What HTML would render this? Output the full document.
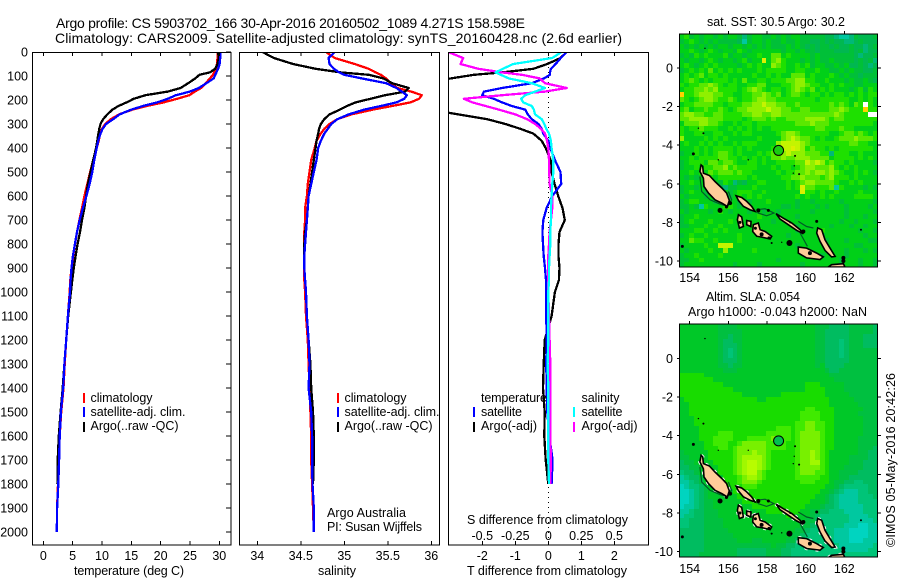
<!DOCTYPE html>
<html lang="en">
<head>
<meta charset="utf-8">
<title>Argo profile</title>
<style>
html,body{margin:0;padding:0;background:#fff;width:900px;height:580px;overflow:hidden}
svg{display:block}
text{font-family:"Liberation Sans",sans-serif;font-size:12.5px;fill:#000}
.t{font-size:14px}
.frame{fill:none;stroke:#000;stroke-width:1.4;shape-rendering:crispEdges}
.mark{stroke-width:2.2;shape-rendering:crispEdges}
</style>
</head>
<body>
<svg xmlns="http://www.w3.org/2000/svg" width="900" height="580" viewBox="0 0 900 580">
<defs>
<clipPath id="c1"><rect x="32" y="52" width="199" height="493"/></clipPath>
<clipPath id="c2"><rect x="239" y="52" width="200" height="493"/></clipPath>
<clipPath id="c3"><rect x="449" y="52" width="199" height="493"/></clipPath>
<clipPath id="m1"><rect x="679" y="34" width="199" height="233"/></clipPath>
<clipPath id="m2"><rect x="679" y="324" width="199" height="233"/></clipPath>
</defs>

<text class="t" x="56" y="28" textLength="469" lengthAdjust="spacing">Argo profile: CS 5903702_166 30-Apr-2016 20160502_1089 4.271S 158.598E</text>
<text class="t" x="55" y="43" textLength="567" lengthAdjust="spacing">Climatology: CARS2009. Satellite-adjusted climatology: synTS_20160428.nc (2.6d earlier)</text>

<g id="p1" clip-path="url(#c1)"></g>
<g id="p2" clip-path="url(#c2)"></g>
<g id="p3" clip-path="url(#c3)"></g>
<g id="axes"></g>

<rect class="frame" x="32.5" y="52.5" width="198.5" height="492.5"/>
<rect class="frame" x="239.5" y="52.5" width="200" height="492.5"/>
<rect class="frame" x="448.5" y="52.5" width="200" height="492.5"/>

<text x="74" y="575" textLength="110" lengthAdjust="spacing">temperature (deg C)</text>
<text x="318" y="575" textLength="38" lengthAdjust="spacing">salinity</text>
<text x="467" y="575" textLength="160" lengthAdjust="spacing">T difference from climatology</text>
<text x="467" y="524" textLength="161" lengthAdjust="spacing">S difference from climatology</text>

<g>
<line class="mark" x1="84" x2="84" y1="393" y2="403" stroke="#f00"/>
<text x="90.5" y="402" textLength="62" lengthAdjust="spacing">climatology</text>
<line class="mark" x1="84" x2="84" y1="407" y2="417" stroke="#00f"/>
<text x="90.5" y="416" textLength="95" lengthAdjust="spacing">satellite-adj. clim.</text>
<line class="mark" x1="84" x2="84" y1="422" y2="432" stroke="#000"/>
<text x="90.5" y="430" textLength="88" lengthAdjust="spacing">Argo(..raw -QC)</text>
</g>
<g>
<line class="mark" x1="338" x2="338" y1="393" y2="403" stroke="#f00"/>
<text x="344.5" y="402" textLength="62" lengthAdjust="spacing">climatology</text>
<line class="mark" x1="338" x2="338" y1="407" y2="417" stroke="#00f"/>
<text x="344.5" y="416" textLength="95" lengthAdjust="spacing">satellite-adj. clim.</text>
<line class="mark" x1="338" x2="338" y1="422" y2="432" stroke="#000"/>
<text x="344.5" y="430" textLength="88" lengthAdjust="spacing">Argo(..raw -QC)</text>
</g>
<text x="327" y="517" textLength="79" lengthAdjust="spacing">Argo Australia</text>
<text x="327" y="531" textLength="95" lengthAdjust="spacing">PI: Susan Wijffels</text>

<g>
<text x="481" y="402" textLength="66" lengthAdjust="spacing">temperature</text>
<line class="mark" x1="474" x2="474" y1="407" y2="417" stroke="#00f"/>
<text x="481" y="416" textLength="41" lengthAdjust="spacing">satellite</text>
<line class="mark" x1="474" x2="474" y1="422" y2="432" stroke="#000"/>
<text x="481" y="430" textLength="56" lengthAdjust="spacing">Argo(-adj)</text>
<text x="581.5" y="402" textLength="38" lengthAdjust="spacing">salinity</text>
<line class="mark" x1="574" x2="574" y1="407" y2="417" stroke="#0ff"/>
<text x="581.5" y="416" textLength="41" lengthAdjust="spacing">satellite</text>
<line class="mark" x1="574" x2="574" y1="422" y2="432" stroke="#f0f"/>
<text x="581.5" y="430" textLength="56" lengthAdjust="spacing">Argo(-adj)</text>
</g>

<text x="707" y="26" textLength="138" lengthAdjust="spacing">sat. SST: 30.5 Argo: 30.2</text>
<g id="map1" clip-path="url(#m1)"></g>
<rect class="frame" x="679.5" y="34" width="198" height="233"/>

<text x="706" y="301" textLength="94" lengthAdjust="spacing">Altim. SLA: 0.054</text>
<text x="688" y="316" textLength="179" lengthAdjust="spacing">Argo h1000: -0.043 h2000: NaN</text>
<g id="map2" clip-path="url(#m2)"></g>
<rect class="frame" x="679.5" y="324" width="198" height="233"/>

<text transform="translate(895 547) rotate(-90)" x="0" y="0" textLength="174" lengthAdjust="spacing">©IMOS 05-May-2016 20:42:26</text>
</svg>

<script>
// ---- profile data (depth in dbar, temperature deg C, salinity, differences) ----
const depths = [0,25,50,70,85,95,110,130,150,165,180,195,210,225,240,260,280,300,320,340,370,400,450,500,550,600,650,700,750,800,850,900,950,1000,1100,1200,1300,1400,1500,1600,1700,1800,1900,2000];

const tempClim = [29.75,29.7,29.6,29.4,29.1,28.9,28.4,27.7,26.9,25.8,24.9,22.8,20.5,17.6,15.2,12.9,11.5,10.55,10,9.7,9.45,9.1,8.5,8.0,7.5,7.0,6.6,6.15,5.75,5.4,5.1,4.8,4.6,4.5,4.2,3.9,3.65,3.45,3.05,2.8,2.65,2.5,2.35,2.3];
const tempArgo = [29.8,29.9,29.7,29.3,28.4,26.6,25.9,24.7,23.4,21.2,17.4,15.4,14.2,12.8,11.8,10.9,10.2,9.75,9.55,9.4,9.2,9.0,8.5,8.05,7.6,7.3,7.0,6.6,6.25,5.85,5.5,5.2,4.95,4.7,4.25,3.9,3.6,3.3,2.95,2.65,2.45,2.4,null,null];
const tempSat = [30.2,30.15,30.05,29.8,29.5,29.3,29.05,27.8,26.5,25,22.6,21.2,19.4,17,15,13,11.9,10.7,10.1,9.75,9.35,9.1,8.7,8.35,7.9,7.35,6.75,6.2,5.75,5.38,5.05,4.8,4.65,4.55,4.2,3.9,3.6,3.4,3.0,2.8,2.7,2.55,2.35,2.3];

const salClim = [34.79,34.89,35.12,35.28,35.36,35.42,35.48,35.53,35.61,35.77,35.89,35.86,35.76,35.55,35.33,35.08,34.92,34.83,34.77,34.73,34.68,34.66,34.62,34.6,34.58,34.57,34.55,34.55,34.54,34.54,34.54,34.54,34.54,34.55,34.56,34.58,34.59,34.6,34.61,34.62,34.62,34.63,34.64,34.65];
const salArgo = [34.06,34.19,34.41,34.67,34.96,35.28,35.45,35.55,35.74,35.7,35.47,35.3,35.13,35.03,34.95,34.83,34.77,34.73,34.71,34.7,34.68,34.67,34.65,34.63,34.61,34.59,34.58,34.57,34.55,34.54,34.54,34.54,34.55,34.56,34.57,34.59,34.61,34.62,34.64,34.65,34.65,34.64,null,null];
const salSat = [34.89,34.82,34.83,34.88,34.94,35,35.2,35.48,35.6,35.66,35.72,35.69,35.6,35.42,35.23,35.05,34.92,34.85,34.81,34.77,34.73,34.7,34.68,34.65,34.62,34.59,34.58,34.57,34.56,34.55,34.54,34.54,34.55,34.56,34.57,34.59,34.6,34.59,34.62,34.63,34.63,34.635,34.65,34.65];

const diffTempArgo = [0.56,0.37,-0.03,-0.45,-1.4,-2.25,-2.95,-4,-5,-5,-5,-5,-5,-4.5,-3.6,-2.72,-1.85,-1.3,-0.85,-0.45,-0.2,-0.08,0.07,0.1,0.19,0.3,0.43,0.5,0.34,0.31,0.31,0.34,0.32,0.2,0.1,-0.11,-0.14,-0.16,-0.11,-0.12,-0.08,0,null,null];
const diffTempSat = [0.56,0.38,0.22,0.08,0.05,0.05,-0.13,-0.5,-1.4,-1.95,-2.0,-1.65,-1.4,-1.11,-0.7,-0.62,-0.5,-0.3,-0.2,-0.15,0,0.06,0.2,0.37,0.39,0.12,-0.05,-0.15,-0.18,-0.16,-0.14,-0.1,-0.07,-0.07,-0.06,-0.05,-0.06,-0.05,-0.03,0.03,0.13,0.1,null,null];
const diffSalSat = [0.1,0.03,-0.265,-0.345,-0.4,-0.36,-0.3,-0.125,-0.025,-0.1,-0.175,-0.205,-0.19,-0.125,-0.11,-0.1,-0.05,-0.03,-0.015,0.005,0.02,0.025,0.0375,0.0375,0.03,0.025,0.02,0.02,0.015,0.015,0.01,0.005,0.005,0,0,0,-0.005,0,0,0,0,0.005,null,null];
const diffSalArgo = [-0.76,-0.645,-0.665,-0.53,-0.35,-0.2,-0.065,-0.025,0.14,-0.025,-0.35,-0.64,-0.575,-0.475,-0.375,-0.25,-0.16,-0.1,-0.055,-0.025,-0.01,0,0.005,0.0075,0.01,0.03,0.03,0.02,0.01,0.005,0,0,0,0,0.005,0.01,0.015,0.015,0.015,0.015,0.02,0.015,null,null];

// ---- tick values ----
const depthTicks = [0,100,200,300,400,500,600,700,800,900,1000,1100,1200,1300,1400,1500,1600,1700,1800,1900,2000];
const tempTicks = [0,5,10,15,20,25,30];
const salTicks = [34,34.5,35,35.5,36];
const diffTempTicks = [-2,-1,0,1,2];
const diffSalTicks = [-0.5,-0.25,0,0.25,0.5];
const lonTicks = [154,156,158,160,162];
const latTicks = [0,-2,-4,-6,-8,-10];

// ---- map grids (0.25 degree cells, one character per cell) ----
const sstRows = [
"4534344343 4431344334 3434433333 2210013222 3",
"3454343433 3320344343 3433433223 2322112322 2",
"4343434344 3443434343 3343432323 3232232212 3",
"4454345434 4354344444 4344343323 3322232312 2",
"3435454445 3443445446 6454444343 3333332122 3",
"4344345434 4345344946 7544434343 3433332323 1",
"4543454544 4434545447 6544545344 3343422321 2",
"3454546454 5454445455 5544554454 4334343322 3",
"4545645545 4444454454 5446664544 4543433233 3",
"4565454555 4546445545 5566775544 5444343343 2",
"5455667654 5544556644 4556776554 4545443344 4",
"4556676755 5545676545 5456765645 4544434535 4",
"a556777665 5445566765 6456654554 5455454545 5",
"6545677655 6545567766 5555555545 5555544545 4",
"4556666554 5556677877 6655655555 56565465w5 4",
"5645565565 4566777787 7665566555 56676555a5 5",
"6776655665 5556677667 7666666666 667655555w w",
"6677776665 5554566656 5566667777 6566555555 5",
"4666776654 4545545555 5555666766 6555555555 4",
"5455655544 5454545445 5555555566 5556554444 4",
"5445544554 4545544444 5677655555 5445665654 5",
"7444454545 4444445444 4678766545 4456667666 5",
"4544545454 4545554444 7888876555 5555566554 4",
"4445454555 5454544445 6889875655 4545555555 4",
"3445454566 5454445456 7787776665 5155544544 4",
"4454555566 5545454546 6766777666 6455554545 4",
"3455546656 6544554544 5555668787 5655454444 3",
"3445455667 5655554445 4554567766 6754545444 4",
"4454546566 6565544444 5455667677 6765445454 3",
"4343455455 5555454444 4556676665 6755545444 4",
"4454443435 4132445544 4454567766 6654454544 4",
"3443434321 3344454444 4454596655 5605444434 3",
"3454435344 3455544544 4444495545 4454444544 4",
"4344434443 3454545444 4444545445 4544445555 4",
"3455444344 4434344454 4444344344 4443444444 3",
"3343054445 5434444444 4334344434 3444344443 4",
"4344443454 3444344344 3444444344 4444344444 3",
"3445444444 4444445444 4444344444 4444344434 4",
"3454445444 5444444443 4444444444 4443443444 3",
"3344454454 4444454444 4444344444 4344434434 4",
"4445544545 4444445444 4444344445 4444444344 3",
"3454454444 4454445444 4434444443 4444444434 4",
"4465544544 4454444444 4444444444 3444344443 3",
"3444454488 8444444444 4444344444 4444443344 4",
"4344445447 4444454444 4444444444 3444344434 3",
"3445444454 4444444444 4444444443 4444344444 4",
"3344544444 4444444444 3444444444 4443444344 3",
"3444444444 4344443444 4444434444 4443444344 3"
];
const slaRows = [
"5555555544 4455555555 5555555544 4333344444 3",
"5555555544 4445555555 5555555544 3333344444 3",
"5555555544 3445555555 5555555544 3333344433 3",
"5555555543 3445555555 5555555544 3332344433 3",
"5555555543 3345555555 5555555544 3332344433 3",
"5555555543 2345555555 5555555544 3332344444 4",
"5555555543 2345555555 5555555544 3332344444 4",
"5555555543 3345555555 5555555544 3333344444 4",
"5555555544 3445555555 5555555545 3333444444 4",
"5555555554 4455555555 5555555555 4334444444 4",
"6666655555 5555555555 5555555555 5444444444 4",
"6666666555 5555555555 5555555555 5544444444 4",
"6666666665 5555555555 5555556665 5555444444 4",
"6666666666 6555555555 5555556666 5555444444 4",
"6666666666 6665555555 5666666666 5555544444 4",
"5666666666 6666665566 6666666666 6555554444 4",
"5566666666 6666666666 6666666666 6555555444 4",
"5566666666 6666666666 6666667766 6655555544 4",
"5566666666 6666666666 6666677776 6655555444 4",
"5556666666 6666666666 6666677776 6655555544 4",
"5556666666 6666666666 6666778877 6655555544 4",
"5555666666 6666666666 7776778877 6655555544 4",
"5555666677 7666666677 7776788887 6655555544 4",
"5555666777 7666777778 7776788887 6655555444 4",
"5555566777 6678888877 7766788887 6655555444 4",
"5555566677 6788888877 7766788887 6655555444 3",
"4555556666 6788898876 6666788987 6555555443 3",
"4455556666 6789999876 6666788987 6555544443 3",
"3445555666 6789aa9876 6666788997 6555544433 3",
"3344555566 6789aa9876 6666788887 6555444433 3",
"2334555566 6789aa8766 6666788877 6554444333 3",
"1233455556 6678998766 6666777776 6554433333 3",
"1123455556 6678887666 6666677766 6544332233 3",
"0122345555 6667776666 6666666666 5543222223 3",
"0012345555 5666666666 6666666665 5432111223 3",
"0012345555 5566666666 6666666655 4321111222 3",
"0012344555 5556666666 6666666555 4321111222 2",
"0112344555 5555566666 6666665554 3321111122 2",
"1123344455 5555555566 6666655443 3222111122 2",
"1223344455 5555555555 5566555432 2222211112 2",
"2233344445 5555555555 5555554432 2222211111 2",
"2233344445 5555555555 5555544322 2222111001 1",
"3333344444 5555555555 5555443222 2211100001 1",
"3333344444 4555555555 5554432222 2211100001 1",
"3333344444 4455544555 5544322222 2211100011 1",
"3333344444 4444444445 4433222222 2221111111 2",
"3333344444 4433333344 4332222222 2222111112 2",
"3333444444 4433333344 4332222222 2222222222 2"
];
const sstPalette = {'0':'#00c8a0','1':'#00b878','2':'#00b850','3':'#00c038','4':'#00d018','5':'#1ee000','6':'#5ae800','7':'#90f000','8':'#c4f400','9':'#dcf000','a':'#ffd200','w':'#ffffff'};
const slaPalette = {'0':'#00d4c0','1':'#00c8a0','2':'#00c478','3':'#00bc60','4':'#00c040','5':'#00c828','6':'#18dc00','7':'#40ea00','8':'#78f000','9':'#a0f800','a':'#b8fc00'};

// ---- coastline geometry in lon/lat ----
const islands = [
[[154.59,-5.02],[154.67,-5.10],[154.71,-5.45],[155.02,-5.57],[155.31,-5.88],[155.66,-6.22],[155.91,-6.48],[156.05,-6.86],[155.95,-7.17],[155.66,-7.00],[155.31,-6.83],[154.97,-6.48],[154.74,-6.14],[154.71,-5.71],[154.53,-5.36]],
[[156.40,-6.62],[156.69,-6.71],[156.95,-6.91],[157.21,-7.17],[157.38,-7.43],[157.12,-7.34],[156.78,-7.17],[156.52,-6.86]],
[[158.47,-7.55],[158.84,-7.78],[159.28,-8.03],[159.71,-8.38],[159.88,-8.59],[159.53,-8.41],[159.10,-8.12],[158.67,-7.83]],
[[156.52,-7.60],[156.69,-7.72],[156.78,-8.21],[156.57,-8.29],[156.47,-7.86]],
[[156.95,-7.90],[157.17,-7.95],[157.16,-8.21],[156.95,-8.12]],
[[157.29,-8.12],[157.55,-8.03],[157.64,-8.38],[157.90,-8.47],[158.24,-8.72],[158.16,-8.86],[157.72,-8.76],[157.47,-8.72],[157.26,-8.47]],
[[159.62,-9.28],[160.05,-9.33],[160.57,-9.59],[160.91,-9.79],[160.74,-9.93],[160.05,-9.84],[159.62,-9.59]],
[[160.62,-8.29],[160.83,-8.38],[161.0,-8.90],[161.26,-9.33],[161.52,-9.76],[161.34,-9.79],[161.0,-9.45],[160.74,-8.98],[160.57,-8.55]],
[[161.17,-10.31],[162.03,-10.31],[161.95,-10.14],[161.34,-10.19]]
];
const shoals = [
[[154.53,-5.62],[154.62,-6.40],[155.05,-6.83],[155.57,-7.05],[155.95,-7.17],[156.17,-6.83],[156.0,-6.40]],
[[157.47,-7.34],[157.90,-7.29],[158.36,-7.52],[157.98,-7.66],[157.55,-7.52],[157.47,-7.34]],
[[159.62,-7.95],[160.05,-8.21],[160.40,-8.29]],
[[159.71,-8.55],[160.09,-9.24]]
];
const islets = [[154.19,-4.45,1.5],[153.62,-9.24,1.5],[155.57,-7.38,2.5],[159.16,-9.07,3],[161.95,-9.84,2],[161.95,-10.0,2],[160.57,-7.95,1.5],[162.86,-8.38,1],[154.45,-3.12,0.7],[154.71,-3.38,1],[155.48,-4.76,0.7],[157.03,-4.76,0.7],[159.45,-4.55,1],[159.41,-5.07,0.7],[159.36,-5.45,0.7],[159.66,-5.5,1],[154.79,1.02,0.7],[158.24,-9.07,1],[158.76,-9.03,0.7],[156.09,-7,2],[155.9,-7.2,1.5],[157.55,-7.38,2],[158.07,-7.38,1.5],[159.88,-8.47,2],[160.22,-9.59,2],[157.72,-8.62,2],[158.1,-8.8,1.5],[156.6,-8.0,1.5],[157.4,-8.3,1.5],[159.2,-8.0,1],[158.6,-7.65,1]];
const floatLon = 158.598;
const floatLat = -4.271;

// ---- axis functions ----
const NS = 'http://www.w3.org/2000/svg';
const yDepth = d => 52 + 0.24 * d;
const xTemp = t => 43.3 + 5.867 * t;
const xSal = s => 257.3 + 87 * (s - 34);
const xDiffT = t => 548.3 + 33 * t;
const xDiffS = s => 548.3 + 132 * s;
const xLon = l => 689.7 + 19.33 * (l - 154);
const yLat1 = l => 68 - 19.3 * l;
const yLat2 = l => 358.3 - 19.33 * l;

function mk(tag, parent, attrs) {
  const el = document.createElementNS(NS, tag);
  for (const k in attrs) el.setAttribute(k, attrs[k]);
  parent.appendChild(el);
  return el;
}

function drawSeries(parent, xFn, values, color, name) {
  const pts = [];
  values.forEach((v, i) => { if (v !== null) pts.push(xFn(v).toFixed(1) + ',' + yDepth(depths[i]).toFixed(1)); });
  const el = mk('polyline', parent, {points: pts.join(' '), fill: 'none', stroke: color, 'stroke-width': 2.3, 'stroke-linejoin': 'round', 'shape-rendering': 'crispEdges'});
  
  
}

const p1 = document.getElementById('p1');
const p2 = document.getElementById('p2');
const p3 = document.getElementById('p3');

drawSeries(p1, xTemp, tempClim, '#f00', 'temperature-climatology-line');
drawSeries(p1, xTemp, tempArgo, '#000', 'temperature-argo-line');
drawSeries(p1, xTemp, tempSat, '#00f', 'temperature-satellite-line');

drawSeries(p2, xSal, salClim, '#f00', 'salinity-climatology-line');
drawSeries(p2, xSal, salArgo, '#000', 'salinity-argo-line');
drawSeries(p2, xSal, salSat, '#00f', 'salinity-satellite-line');

const zeroLine = mk('line', p3, {x1: xDiffT(0), x2: xDiffT(0), y1: 52, y2: 545, stroke: '#000', 'stroke-width': 1, 'stroke-dasharray': '1 4', 'shape-rendering': 'crispEdges'});


drawSeries(p3, xDiffT, diffTempArgo, '#000', 't-difference-argo-line');
drawSeries(p3, xDiffT, diffTempSat, '#00f', 't-difference-satellite-line');
drawSeries(p3, xDiffS, diffSalArgo, '#f0f', 's-difference-argo-line');
drawSeries(p3, xDiffS, diffSalSat, '#0ff', 's-difference-satellite-line');

// ---- ticks ----
const axes = document.getElementById('axes');
function tickLine(x1, y1, x2, y2) {
  const el = mk('line', axes, {x1: x1, y1: y1, x2: x2, y2: y2, stroke: '#000', 'stroke-width': 1, 'shape-rendering': 'crispEdges'});
  
  
}
function tickLabel(x, y, txt, anchor) {
  const el = mk('text', axes, {x: x, y: y, 'text-anchor': anchor});
  el.textContent = txt;
  
  
}
depthTicks.forEach(d => {
  tickLine(226, yDepth(d), 231, yDepth(d));
  tickLabel(28, yDepth(d) + 4.5, String(d), 'end');
});
tempTicks.forEach(t => {
  tickLine(xTemp(t), 52, xTemp(t), 56);
  tickLine(xTemp(t), 541, xTemp(t), 545);
  tickLabel(xTemp(t), 560, String(t), 'middle');
});
salTicks.forEach(s => {
  tickLine(xSal(s), 52, xSal(s), 56);
  tickLine(xSal(s), 541, xSal(s), 545);
  tickLabel(xSal(s), 560, String(s), 'middle');
});
diffTempTicks.forEach(t => {
  tickLine(xDiffT(t), 52, xDiffT(t), 56);
  tickLine(xDiffT(t), 541, xDiffT(t), 545);
  tickLabel(xDiffT(t), 560, String(t), 'middle');
});
diffSalTicks.forEach(s => {
  tickLabel(xDiffS(s), 540, String(s), 'middle');
});

// ---- maps ----
function drawMap(parent, rows, palette, yLat, top, fillCircle, prefix, specks) {
  const colW = 4.84, rowH = 4.86, left = 679.3;
  rows.forEach((raw, r) => {
    const row = raw.replace(/ /g, '');
    for (let c = 0; c < row.length; c++) {
      const x0 = Math.round(left + c * colW), x1 = Math.round(left + (c + 1) * colW);
      const y0 = Math.round(top + r * rowH), y1 = Math.round(top + (r + 1) * rowH);
      const cell = mk('rect', parent, {x: x0, y: y0, width: x1 - x0, height: y1 - y0, fill: palette[row[c]] || palette['4']});
      
      
    }
  });
  const path = a => a.map(p => xLon(p[0]).toFixed(1) + ',' + yLat(p[1]).toFixed(1)).join(' ');
  if (specks) {
    islands.forEach(s => {
      const el = mk('polygon', parent, {points: path(s), fill: 'none', stroke: '#fff', 'stroke-width': 3.4, 'stroke-dasharray': '3 8'});
      
      
    });
  }
  shoals.forEach(s => {
    const el = mk('polyline', parent, {points: path(s), fill: 'none', stroke: '#005a28', 'stroke-width': 1.2});
    
    
  });
  islands.forEach(s => {
    const el = mk('polygon', parent, {points: path(s), fill: '#ffcc99', stroke: '#000', 'stroke-width': 1.6});
    
    
  });
  islets.forEach(s => {
    const el = mk('circle', parent, {cx: xLon(s[0]), cy: yLat(s[1]), r: s[2], fill: '#000'});
    
    
  });
  const dot = mk('circle', parent, {cx: xLon(floatLon), cy: yLat(floatLat), r: 5, fill: fillCircle, stroke: '#000', 'stroke-width': 1});
  
  
}
drawMap(document.getElementById('map1'), sstRows, sstPalette, yLat1, 34, '#18cc10', 'sst', false);
drawMap(document.getElementById('map2'), slaRows, slaPalette, yLat2, 324, '#00c050', 'sla', true);

function mapTicks(top, bottom, yLat, labelY) {
  lonTicks.forEach(l => {
    tickLine(xLon(l), top - 3, xLon(l), top);
    tickLabel(xLon(l), labelY, String(l), 'middle');
  });
  latTicks.forEach(l => {
    tickLine(677, yLat(l), 679.5, yLat(l));
    tickLine(877.5, yLat(l), 881, yLat(l));
    tickLabel(673, yLat(l) + 4.5, String(l), 'end');
  });
}
mapTicks(34, 267, yLat1, 282);
mapTicks(324, 557, yLat2, 573);
</script>
</body>
</html>
